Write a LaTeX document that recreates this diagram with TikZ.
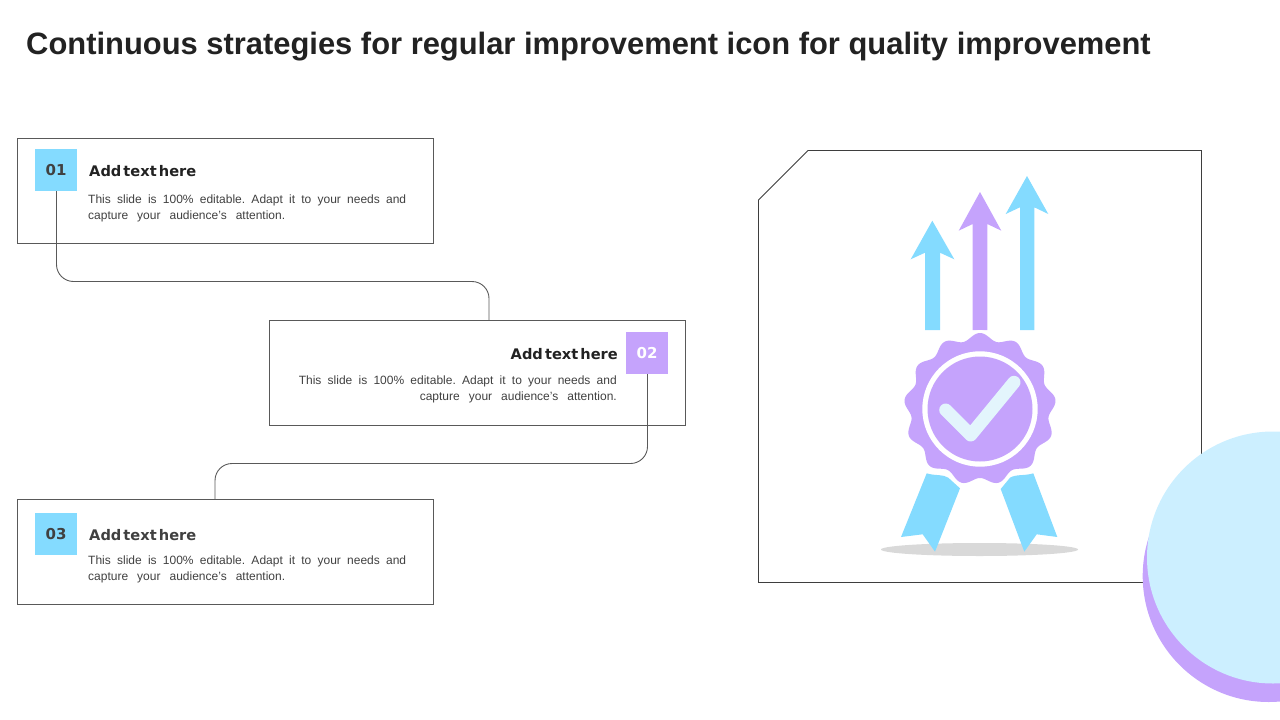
\documentclass[tikz,border=0pt]{standalone}
\usepackage{fontspec}
\setmainfont{Liberation Sans}
\newfontfamily\headfont{DejaVu Sans}[BoldFont={DejaVu Sans Bold}]
\definecolor{cblue}{HTML}{84DBFF}
\definecolor{cpurple}{HTML}{C5A3FC}
\definecolor{clight}{HTML}{CCEFFF}
\definecolor{ccheck}{HTML}{E3F5FC}
\definecolor{cline}{HTML}{595959}
\definecolor{ctitle}{HTML}{222222}
\definecolor{cbody}{HTML}{404040}
\definecolor{cshadow}{HTML}{D9D9D9}
\tikzset{
  x=1pt,y=-1pt,
  textbox/.style={draw=cline,line width=0.75pt,rectangle,minimum width=416pt,minimum height=105pt,inner sep=0pt,outer sep=0pt},
  numsq/.style={rectangle,minimum width=42pt,minimum height=42pt,inner sep=0pt,outer sep=0pt,font=\headfont\bfseries\fontsize{15}{15}\selectfont},
  headtxt/.style={inner sep=0pt,font=\headfont\bfseries\fontsize{14.6}{16}\selectfont},
  bodytxt/.style={inner sep=0pt,text=cbody,font=\fontsize{12}{16}\selectfont},
  conn/.style={draw=cline,line width=0.9pt,rounded corners=17pt},
}
\newcommand{\lineone}{\makebox[318pt][s]{\frenchspacing This slide is 100\% editable. Adapt it to your needs and}}
\newcommand{\linetwo}{\makebox[197pt][s]{capture your audience's attention.}}
\newcommand{\headline}{\makebox[107pt][s]{Add\hspace{0pt plus 1fil} text\hspace{0pt plus 1fil} here}}
\begin{document}
\begin{tikzpicture}
\useasboundingbox (0,0) rectangle (1280,720);
% title
\node[anchor=base west,inner sep=0pt,text=ctitle,font=\bfseries\fontsize{30.9}{36}\selectfont] (title) at (26,54) {Continuous strategies for regular improvement icon for quality improvement};
% boxes
\node[textbox] (b1) at (225.5,191) {};
\node[textbox] (b2) at (477.5,373) {};
\node[textbox] (b3) at (225.5,552) {};
% squares
\node[numsq,fill=cblue,text=cbody] (s1) at (56,170) {01};
\node[numsq,fill=cpurple,text=white] (s2) at (647,353) {02};
\node[numsq,fill=cblue,text=cbody] (s3) at (56,534) {03};
% connectors
\coordinate (m1) at (272,281.5);
\coordinate (m2) at (430,463.5);
\draw[conn] ([xshift=.5pt]s1.south) |- (m1) -| ([xshift=11.5pt]b2.north);
\draw[conn] ([xshift=.5pt]s2.south) |- (m2) -| ([xshift=-10.5pt]b3.north);
% texts
\node[headtxt,anchor=base west,text=ctitle] (h1) at (89,176) {{\spaceskip=2.1pt\relax Add text here}};
\node[headtxt,anchor=base east,text=ctitle] (h2) at (618,359) {{\spaceskip=2.1pt\relax Add text here}};
\node[headtxt,anchor=base west,text=cbody] (h3) at (89,540) {{\spaceskip=2.1pt\relax Add text here}};
\node[bodytxt,anchor=north west,align=left] (t1) at (88,195) {\lineone\\\linetwo};
\node[bodytxt,anchor=north east,align=right] (t2) at (617,376) {\lineone\\\linetwo};
\node[bodytxt,anchor=north west,align=left] (t3) at (88,556) {\lineone\\\linetwo};
% panel
\draw[cline!70!black,line width=0.75pt] (808,150.5) -- (1201.5,150.5) -- (1201.5,582.5) -- (758.5,582.5) -- (758.5,200) -- cycle;
% shadow
\fill[cshadow] (979.5,549.5) ellipse [x radius=98.5,y radius=6.5];
% arrows
\fill[cblue] (932.3,220.7) -- (954.3,259.3) -- (940,252.7) -- (940,330) -- (925,330) -- (925,252.7) -- (910.7,259.3) -- cycle;
\fill[cpurple] (980,192) -- (1001.3,230.7) -- (987.3,224) -- (987.3,330) -- (972.7,330) -- (972.7,224) -- (958.7,230.7) -- cycle;
\fill[cblue] (1027,176) -- (1048.3,214) -- (1034.3,207.3) -- (1034.3,330) -- (1020,330) -- (1020,207.3) -- (1005.7,214) -- cycle;
% ribbons
\fill[cblue] (926.7,473.3) .. controls (935,476) and (943,474) .. (948.3,477.7) -- (960,488.3) -- (935,551.7) -- (922.7,534.3) -- (901,537) -- cycle;
\fill[cblue] (1033.3,473.3) .. controls (1025,476) and (1016,474) .. (1010,477.7) -- (1000.7,489) -- (1024.3,551.7) -- (1036.7,534.3) -- (1057.3,537) -- cycle;
% badge
\fill[white] plot[domain=0:360,samples=261,smooth] ({980+(75.5+3.5*cos(13*\x))*sin(\x)},{409-(75.5+3.5*cos(13*\x))*cos(\x)}) -- cycle;
\fill[cpurple] plot[domain=0:360,samples=261,smooth] ({980+(72.5+3.5*cos(13*\x))*sin(\x)},{409-(72.5+3.5*cos(13*\x))*cos(\x)}) -- cycle;
\fill[white] (980,409) circle [radius=57.7];
\fill[cpurple] (980,409) circle [radius=52.5];
\draw[ccheck,line width=13pt,line cap=round,line join=round] (945.7,410) -- (970.7,435) -- (1014,382.3);
% circles
\fill[cpurple] (1268.7,576) circle [radius=126];
\fill[clight] (1273,557.5) circle [radius=126];
\end{tikzpicture}
\end{document}
